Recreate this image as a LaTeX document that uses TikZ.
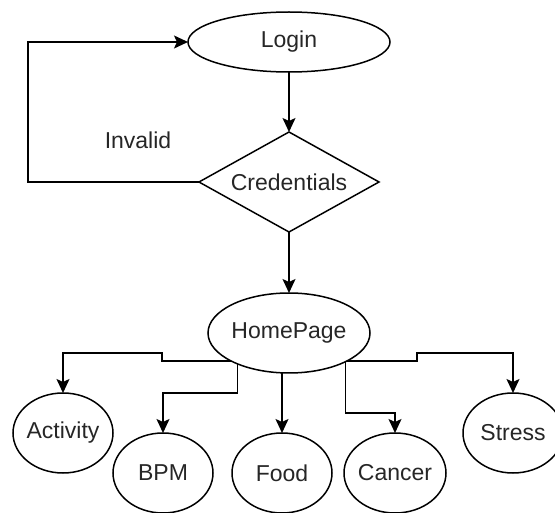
\documentclass[tikz,border=0pt]{standalone}
\usepackage{fontspec}
\setmainfont{Liberation Sans}
\usetikzlibrary{shapes.geometric,arrows.meta}
\begin{document}
\begin{tikzpicture}[x=1pt,y=-1pt,
  every node/.style={font=\fontsize{23}{27}\selectfont, text=black!85},
  ell/.style={draw, ellipse, line width=1.5pt, inner sep=0pt, outer sep=0pt},
  arr/.style={line width=1.5pt, -{Stealth[length=14pt,width=13pt,inset=3pt]}},
]
\useasboundingbox (0,0) rectangle (555,513);
\node[ell, minimum width=202pt, minimum height=60pt] (login) at (289,42) {\makebox[0pt]{Login}};
\node[draw, diamond, line width=1.5pt, inner sep=0pt, outer sep=0pt, minimum width=180pt, minimum height=100pt] (cred) at (289,182) {\makebox[0pt]{Credentials}};
\node (inv) at (138,140) {Invalid};
\node[ell, minimum width=162pt, minimum height=80pt] (home) at (289,333) {\makebox[0pt]{HomePage}};
\node[ell, minimum width=100pt, minimum height=80pt] (act) at (63,433) {\makebox[0pt]{Activity}};
\node[ell, minimum width=100pt, minimum height=80pt] (bpm) at (163,473) {\makebox[0pt]{BPM}};
\node[ell, minimum width=100pt, minimum height=80pt] (food) at (282,473) {\makebox[0pt]{Food}};
\node[ell, minimum width=102pt, minimum height=80pt] (cancer) at (395,473) {\makebox[0pt]{Cancer}};
\node[ell, minimum width=100pt, minimum height=80pt] (stress) at (513,433) {\makebox[0pt]{Stress}};

\draw[arr] (login.south) -- (cred.north);
\draw[arr] (cred.west) -- ++(-171,0) |- (login.west);
\draw[arr] (cred.south) -- (home.north);
\draw[arr] (home.206) -| (162,353) -| (act.north);
\draw[arr] (home.211) |- (163,393) -- (bpm.north);
\draw[arr] (home.south -| food.north) -- (food.north);
\draw[arr] (home.333) |- (395,413) -- (cancer.north);
\draw[arr] (home.334) -| (417,353) -| (stress.north);
\end{tikzpicture}
\end{document}
